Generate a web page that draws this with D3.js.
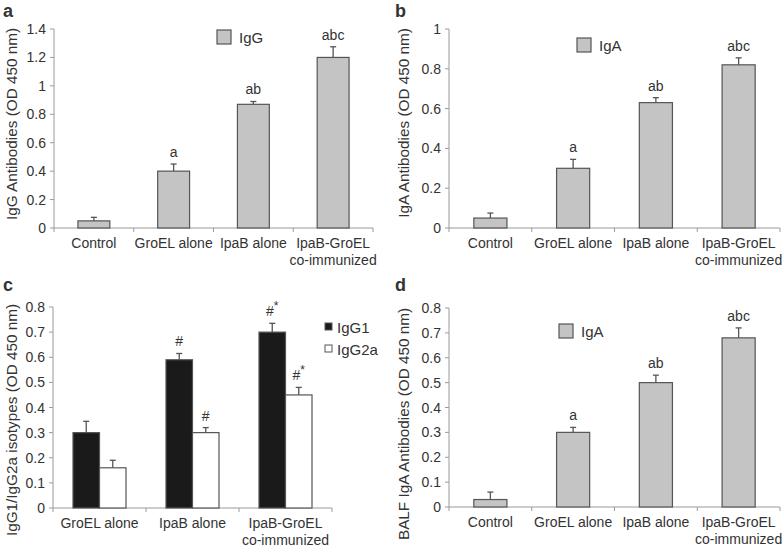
<!DOCTYPE html>
<html><head><meta charset="utf-8">
<script src="https://cdn.jsdelivr.net/npm/d3@7"></script>
<style>
body{margin:0;background:#fff;}
text{font-family:"Liberation Sans",Arial,sans-serif;fill:#333;}
</style></head>
<body><svg id="c" width="784" height="549"></svg>
<script>
// ---- data ----
const groups4 = ["Control", "GroEL alone", "IpaB alone", "IpaB-GroEL\nco-immunized"];
const groups3 = ["GroEL alone", "IpaB alone", "IpaB-GroEL\nco-immunized"];

const igG = [0.05, 0.40, 0.87, 1.20];
const igGErr = [0.025, 0.05, 0.02, 0.075];
const igGSig = ["", "a", "ab", "abc"];

const igA = [0.05, 0.30, 0.63, 0.82];
const igAErr = [0.025, 0.045, 0.025, 0.035];
const igASig = ["", "a", "ab", "abc"];

const igG1 = [0.30, 0.59, 0.70];
const igG1Err = [0.045, 0.025, 0.035];
const igG1Sig = ["", "#", "#*"];
const igG2a = [0.16, 0.30, 0.45];
const igG2aErr = [0.03, 0.02, 0.03];
const igG2aSig = ["", "#", "#*"];

const balfIgA = [0.03, 0.30, 0.50, 0.68];
const balfIgAErr = [0.03, 0.02, 0.03, 0.04];
const balfIgASig = ["", "a", "ab", "abc"];

const ticksA = [0, 0.2, 0.4, 0.6, 0.8, 1, 1.2, 1.4];
const ticksB = [0, 0.2, 0.4, 0.6, 0.8, 1];
const ticksC = [0, 0.1, 0.2, 0.3, 0.4, 0.5, 0.6, 0.7, 0.8];
const ticksD = [0, 0.1, 0.2, 0.3, 0.4, 0.5, 0.6, 0.7, 0.8];

// ---- drawing ----
const svg = d3.select("#c");
const AX = "#9a9a9a", BAR_STROKE = "#555", GREY = "#c4c4c4";

function drawAxes(g, x, y, ticks, cats, yTitle, titleX, titleY) {
  const [x0, x1] = x.range();
  const [yb, yt] = y.range();
  g.append("line").attr("x1", x0).attr("x2", x0).attr("y1", yb).attr("y2", y(ticks[ticks.length-1])).attr("stroke", AX);
  ticks.forEach(t => {
    g.append("line").attr("x1", x0-4).attr("x2", x0).attr("y1", y(t)).attr("y2", y(t)).attr("stroke", AX);
    g.append("text").attr("x", x0-8).attr("y", y(t)+5).attr("text-anchor", "end").attr("font-size", 14).text(d3.format("~g")(t));
  });
  g.append("line").attr("x1", x0).attr("x2", x1).attr("y1", yb).attr("y2", yb).attr("stroke", AX);
  const step = x.step();
  for (let i = 0; i <= cats.length; i++) {
    const xx = x0 + i*step;
    g.append("line").attr("x1", xx).attr("x2", xx).attr("y1", yb).attr("y2", yb+4).attr("stroke", AX);
  }
  cats.forEach((c, i) => {
    const cx = x0 + (i+0.5)*step;
    const t = g.append("text").attr("x", cx).attr("y", yb+20).attr("text-anchor", "middle").attr("font-size", 14);
    c.split("\n").forEach((ln, j) => t.append("tspan").attr("x", cx).attr("dy", j ? 17 : 0).text(ln));
  });
  g.append("text").attr("transform", `translate(${titleX},${titleY}) rotate(-90)`)
    .attr("text-anchor", "middle").attr("font-size", 15.3).text(yTitle);
}

function barSeries(g, cx, w, y, vals, errs, sigs, fill) {
  vals.forEach((v, i) => {
    const c = cx(i);
    const top = y(v + errs[i]);
    g.append("line").attr("x1", c).attr("x2", c).attr("y1", y(v)).attr("y2", top).attr("stroke", BAR_STROKE).attr("stroke-width", 1.3);
    g.append("line").attr("x1", c-3).attr("x2", c+3).attr("y1", top).attr("y2", top).attr("stroke", BAR_STROKE).attr("stroke-width", 1.3);
    g.append("rect").attr("x", c - w/2).attr("y", y(v)).attr("width", w).attr("height", y(0) - y(v))
      .attr("fill", fill).attr("stroke", BAR_STROKE).attr("stroke-width", 1.2);
    if (sigs[i]) {
      const s = sigs[i];
      const t = g.append("text").attr("x", c).attr("y", top - 7).attr("text-anchor", "middle").attr("font-size", 14);
      if (s.includes("*")) {
        t.append("tspan").text(s.replace("*", ""));
        t.append("tspan").attr("dy", -6).attr("font-size", 12).text("*");
      } else t.text(s);
    }
  });
}

function simplePanel(opts) {
  const g = svg.append("g");
  const x = d3.scaleBand().domain(opts.cats.map((d,i)=>i)).range([opts.x0, opts.x1]).paddingInner(0.6).paddingOuter(0.3);
  const y = d3.scaleLinear().domain([0, opts.ticks[opts.ticks.length-1]]).range([opts.yb, opts.yt]);
  const xs = d3.scaleBand().domain(opts.cats.map((d,i)=>i)).range([opts.x0, opts.x1]);
  drawAxes(g, xs, y, opts.ticks, opts.cats, opts.title, opts.titleX, opts.titleY);
  barSeries(g, i => x(i) + x.bandwidth()/2, x.bandwidth(), y, opts.vals, opts.errs, opts.sigs, GREY);
  g.append("rect").attr("x", opts.lx).attr("y", opts.ly).attr("width", 14).attr("height", 14)
    .attr("fill", GREY).attr("stroke", BAR_STROKE).attr("stroke-width", 1.2);
  g.append("text").attr("x", opts.lx + 22).attr("y", opts.ly + 12.5).attr("font-size", 15).text(opts.legend);
  svg.append("text").attr("x", opts.px).attr("y", opts.py).attr("font-size", 18).attr("font-weight", "bold").attr("fill", "#222").text(opts.label);
}

simplePanel({cats: groups4, x0: 54, x1: 373, yb: 228, yt: 29, ticks: ticksA, vals: igG, errs: igGErr, sigs: igGSig,
  title: "IgG Antibodies (OD 450 nm)", titleX: 17, titleY: 124, legend: "IgG", lx: 217, ly: 30, label: "a", px: 3, py: 17});
simplePanel({cats: groups4, x0: 449, x1: 780, yb: 228, yt: 29, ticks: ticksB, vals: igA, errs: igAErr, sigs: igASig,
  title: "IgA Antibodies (OD 450 nm)", titleX: 409, titleY: 123, legend: "IgA", lx: 577, ly: 38, label: "b", px: 395, py: 17});
simplePanel({cats: groups4, x0: 449, x1: 780, yb: 507, yt: 308, ticks: ticksD, vals: balfIgA, errs: balfIgAErr, sigs: balfIgASig,
  title: "BALF IgA Antibodies (OD 450 nm)", titleX: 409, titleY: 424, legend: "IgA", lx: 559, ly: 324, label: "d", px: 395, py: 291});

(function(){
  const g = svg.append("g");
  const x0 = 53, x1 = 332, yb = 508, yt = 307;
  const xs = d3.scaleBand().domain(groups3.map((d,i)=>i)).range([x0, x1]);
  const xg = d3.scaleBand().domain(groups3.map((d,i)=>i)).range([x0, x1]).paddingInner(0.43).paddingOuter(0.215);
  const xi = d3.scaleBand().domain(["IgG1", "IgG2a"]).range([0, xg.bandwidth()]);
  const y = d3.scaleLinear().domain([0, 0.8]).range([yb, yt]);
  drawAxes(g, xs, y, ticksC, groups3, "IgG1/IgG2a isotypes (OD 450 nm)", 17, 420);
  barSeries(g, i => xg(i) + xi("IgG1") + xi.bandwidth()/2, xi.bandwidth(), y, igG1, igG1Err, igG1Sig, "#1a1a1a");
  barSeries(g, i => xg(i) + xi("IgG2a") + xi.bandwidth()/2, xi.bandwidth(), y, igG2a, igG2aErr, igG2aSig, "#fff");
  const leg = [["IgG1", "#1a1a1a", 323], ["IgG2a", "#fff", 345]];
  leg.forEach(([n, f, yy]) => {
    g.append("rect").attr("x", 325).attr("y", yy).attr("width", 7).attr("height", 7).attr("fill", f).attr("stroke", BAR_STROKE).attr("stroke-width", 1);
    g.append("text").attr("x", 337).attr("y", yy + 10).attr("font-size", 15).text(n);
  });
  svg.append("text").attr("x", 3).attr("y", 291).attr("font-size", 18).attr("font-weight", "bold").attr("fill", "#222").text("c");
})();
</script></body></html>
